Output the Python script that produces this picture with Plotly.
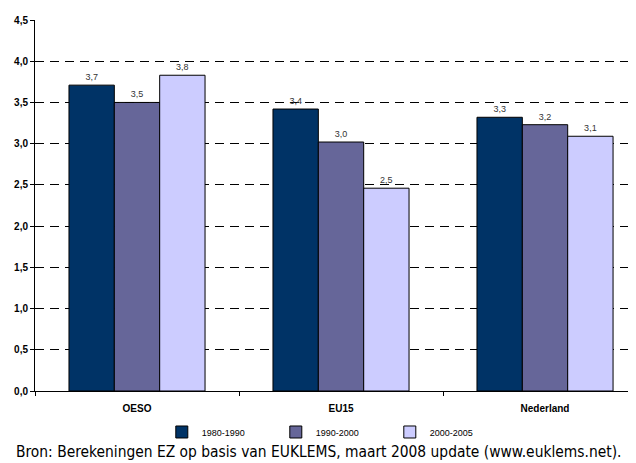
import plotly.graph_objects as go

categories = ["OESO", "EU15", "Nederland"]
series_names = ["1980-1990", "1990-2000", "2000-2005"]
v_1980_1990 = [3.71, 3.42, 3.32]
v_1990_2000 = [3.50, 3.02, 3.23]
v_2000_2005 = [3.83, 2.46, 3.09]
y_ticks = [0, 0.5, 1.0, 1.5, 2.0, 2.5, 3.0, 3.5, 4.0, 4.5]
colors = ["#003366", "#666699", "#CCCCFF"]

fig = go.Figure()
for name, vals, col in zip(series_names, [v_1980_1990, v_1990_2000, v_2000_2005], colors):
    fig.add_trace(go.Bar(
        x=categories, y=vals, name=name,
        marker=dict(color=col, line=dict(color="#000000", width=1)),
        texttemplate="%{y:.1f}", textposition="outside",
        textfont=dict(family="Liberation Sans", size=9, color="#333333"),
        cliponaxis=False,
    ))

fig.update_layout(
    width=628, height=455,
    margin=dict(l=27, r=0, t=12, b=72, autoexpand=False),
    paper_bgcolor="white", plot_bgcolor="white",
    separators=",.",
    barmode="group", bargap=0.333, bargroupgap=0,
    font=dict(family="Liberation Sans", color="#000000"),
    showlegend=True,
    legend=dict(orientation="h", x=0.211, xanchor="left", y=-0.0714, yanchor="top",
                font=dict(size=9), entrywidth=69, itemwidth=30,
                bgcolor="rgba(0,0,0,0)"),
    xaxis=dict(showline=True, linecolor="#000000", linewidth=1,
               ticks="outside", tickson="boundaries", ticklen=4, tickcolor="#000000",
               ticklabelstandoff=8,
               tickfont=dict(size=10, family="Liberation Sans", weight="bold"),
               range=[-0.5, 2.446]),
    yaxis=dict(range=[0, 4.5], tickvals=y_ticks, tickformat=".1f",
               showline=True, linecolor="#000000", linewidth=1,
               ticks="outside", ticklen=4, tickcolor="#000000",
               showgrid=True, gridcolor="#000000", gridwidth=1, griddash="9px,6px",
               zeroline=False,
               tickfont=dict(size=10, family="Liberation Sans", weight="bold")),
    annotations=[dict(text="Bron: Berekeningen EZ op basis van EUKLEMS, maart 2008 update (www.euklems.net).",
                      x=(310 - 27) / 601, xref="paper", xanchor="center",
                      y=-0.1644, yref="paper", yanchor="middle", showarrow=False,
                      font=dict(family="Liberation Sans Narrow, DejaVu Sans Condensed, Liberation Sans",
                                size=15.4))],
)
fig.write_html("out.html")
